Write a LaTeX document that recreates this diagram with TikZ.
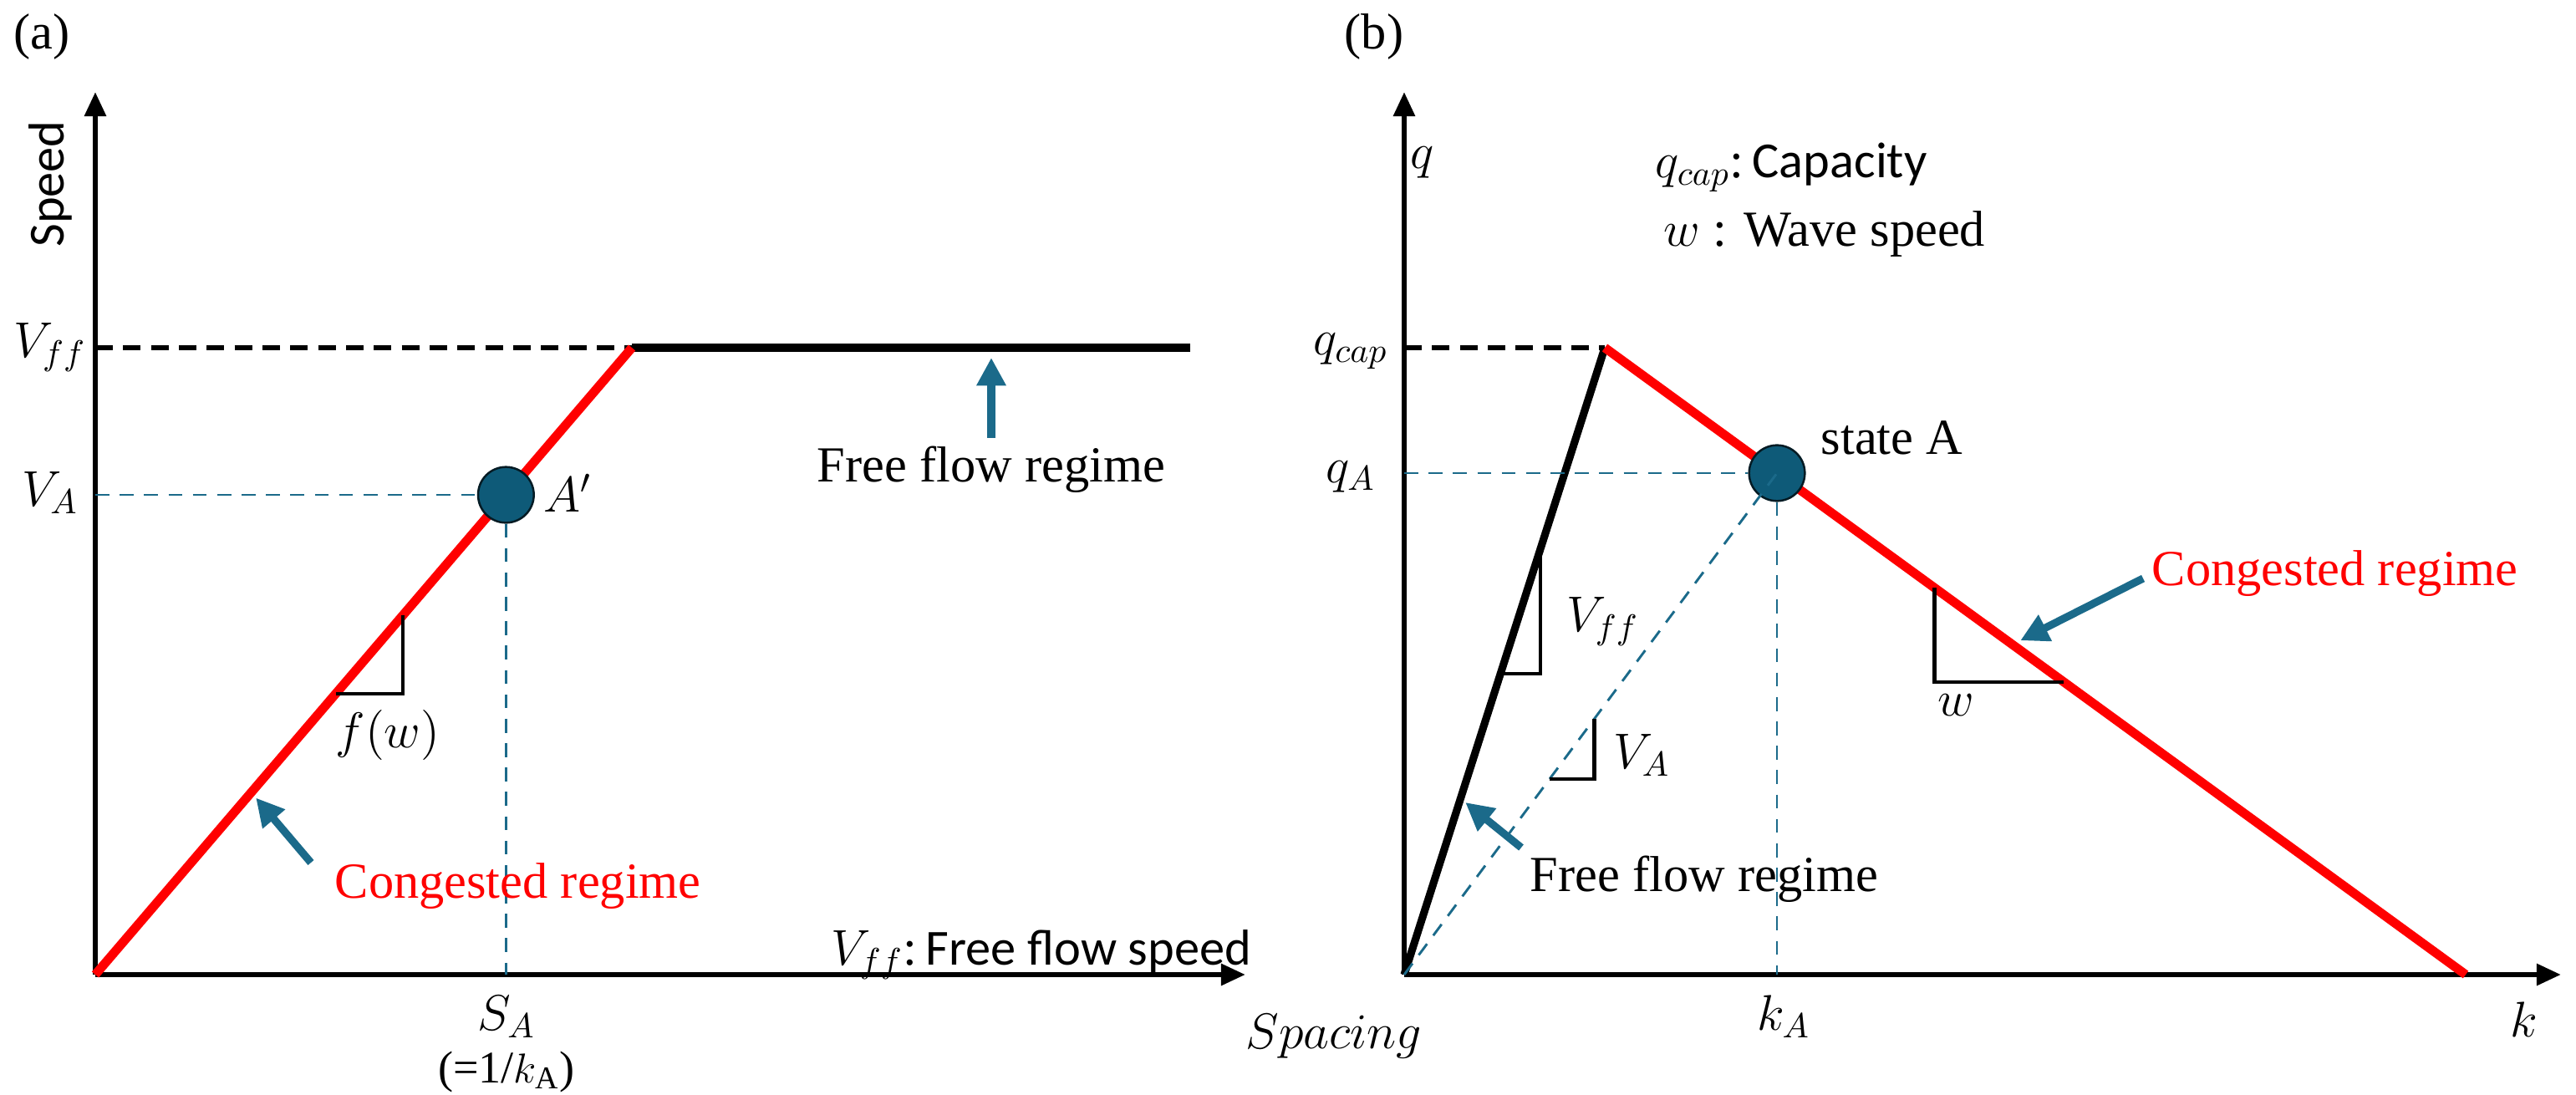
\documentclass[tikz,border=0pt]{standalone}
\usepackage{fontspec}
\setmainfont{Liberation Serif}
\newfontfamily\sansf{Carlito}
\usetikzlibrary{arrows.meta,calc}
\definecolor{tb}{HTML}{1B6A8A}
\definecolor{dot}{HTML}{0E5A78}
\begin{document}
\begin{tikzpicture}[x=0.48pt,y=-0.48pt,
  every node/.style={font=\fontsize{14.5}{16}\selectfont},
  axis/.style={line width=1.5pt,-{Triangle[length=7pt,width=6pt]}},
  red/.style={line width=2.6pt,draw={rgb,255:red,255;green,0;blue,0}},
  guide/.style={tb,line width=0.7pt,dash pattern=on 4pt off 3pt},
  capd/.style={black,line width=1.3pt,dash pattern=on 5pt off 3pt},
  tri/.style={black,line width=1pt},
  barrow/.style={tb,line width=2.2pt,-{Triangle[length=8pt,width=8pt]}},
  dotst/.style={circle,fill=dot,draw=black!70!dot,line width=0.6pt,minimum size=16pt,inner sep=0pt},
  ttext/.style={text=red}]
\useasboundingbox (0,0) rectangle (1541,655);
% ---------- panel (a)
\node (la) at (25,22) {(a)};
\coordinate (Oa) at (57,583);
\coordinate (Ya) at (57,55);
\coordinate (Xa) at (745,583);
\draw[axis] (Oa) -- (Ya);
\draw[axis] (Oa) -- (Xa);
\node[rotate=90,font=\sansf\fontsize{14.5}{16}\selectfont] (speed) at (30,110) {Speed};
\coordinate (Pa) at (378,208);
\coordinate (Ea) at (712,208);
\coordinate (Vffa) at (57,208);
\draw[capd] (Vffa) -- (Pa);
\draw[black,line width=2.2pt] (Pa) -- (Ea);
\draw[red] (Oa) -- (Pa);
\node (Ap) [dotst] at ($(Oa)!0.7653!(Pa)$) {};
\draw[guide] (Ap.center -| Oa) -- (Ap.west);
\draw[guide] (Ap.south) -- (Ap.center |- Oa);
\node (vffl) at (30,208) {$V_{ff}$};
\node (val) at (30,295) {$V_{A}$};
\node[anchor=west] (apl) at (318,295) {$A'$};
\coordinate (t1) at ($(Oa)!0.573!(Pa)$);
\coordinate (t2) at ($(Oa)!0.448!(Pa)$);
\draw[tri] (t1) -- (t1 |- t2) -- (t2);
\node (fw) at (232,440) {$f(w)$};
\coordinate (ca1) at (186,516);
\coordinate (ca2) at ($(Oa)!0.29!(Pa)$);
\draw[barrow] (ca1) -- ($(ca2)+(3,3)$);
\node[ttext,anchor=west] (cong) at (193,530) {Congested regime};
\coordinate (fa1) at (593,262);
\coordinate (fa2) at (593,214);
\draw[barrow] (fa1) -- (fa2);
\node (ffa) at (593,281) {Free flow regime};
\node[anchor=west] (vffs) at (490,571) {$V_{ff}$:\,{\sansf Free flow speed}};
\node (sa) at (303,608) {$S_A$};
\node[font=\fontsize{13}{14}\selectfont] (sak) at (303,641) {(=1/$k_{\mathrm{A}}$)};
\node (spc) at (798,620) {$Spacing$};
% ---------- panel (b)
\node (lb) at (822,22) {(b)};
\coordinate (Ob) at (840,583);
\coordinate (Yb) at (840,55);
\coordinate (Xb) at (1532,583);
\draw[axis] (Ob) -- (Yb);
\draw[axis] (Ob) -- (Xb);
\node (ql) at (851,97) {$q$};
\node (kl) at (1510,610) {$k$};
\coordinate (Pb) at (960,208);
\coordinate (Eb) at (1475,583);
\draw[capd] (Pb -| Ob) -- (Pb);
\draw[black,line width=2.2pt] (Ob) -- (Pb);
\draw[red] (Pb) -- (Eb);
\node (SA) [dotst] at ($(Pb)!0.2!(Eb)$) {};
\draw[guide] (SA.center -| Ob) -- (SA.west);
\draw[guide] (SA.south) -- (SA.center |- Ob);
\draw[guide] (Ob) -- (SA.center);
\node (qcapl) at (808,210) {$q_{cap}$};
\node (qal) at (808,285) {$q_{A}$};
\node (kal) at (1067,608) {$k_{A}$};
\node[anchor=west] (sal) at (1082,262) {state A};
% Vff triangle
\coordinate (b1) at ($(Ob)!0.68!(Pb)$);
\coordinate (b2) at ($(Ob)!0.48!(Pb)$);
\draw[tri] (b1) -- (b1 |- b2) -- (b2);
\node[anchor=west] (vffb) at (930,372) {$V_{ff}$};
% VA triangle
\coordinate (c1) at ($(Ob)!0.51!(SA.center)$);
\coordinate (c2) at ($(Ob)!0.39!(SA.center)$);
\draw[tri] (c1) -- (c1 |- c2) -- (c2);
\node[anchor=west] (vab) at (958,452) {$V_{A}$};
% w triangle
\coordinate (d1) at ($(Pb)!0.383!(Eb)$);
\coordinate (d2) at ($(Pb)!0.533!(Eb)$);
\draw[tri] (d1) -- (d1 |- d2) -- (d2);
\node (wl) at (1170,422) {$w$};
\coordinate (cb1) at (1282,346);
\coordinate (cb2) at ($(Pb)!0.475!(Eb)$);
\draw[barrow] (cb1) -- ($(cb2)+(4,-3)$);
\node[ttext,anchor=west] (congb) at (1280,343) {Congested regime};
\coordinate (fb1) at (910,507);
\coordinate (fb2) at ($(Ob)!0.28!(Pb)$);
\draw[barrow] (fb1) -- ($(fb2)+(3,2)$);
\node[anchor=west] (ffb) at (908,526) {Free flow regime};
\node[anchor=west] (qcapt) at (983,100) {$q_{cap}$:\,{\sansf Capacity}};
\node[anchor=west] (wt) at (988,140) {$w$ : Wave speed};
\end{tikzpicture}
\end{document}
